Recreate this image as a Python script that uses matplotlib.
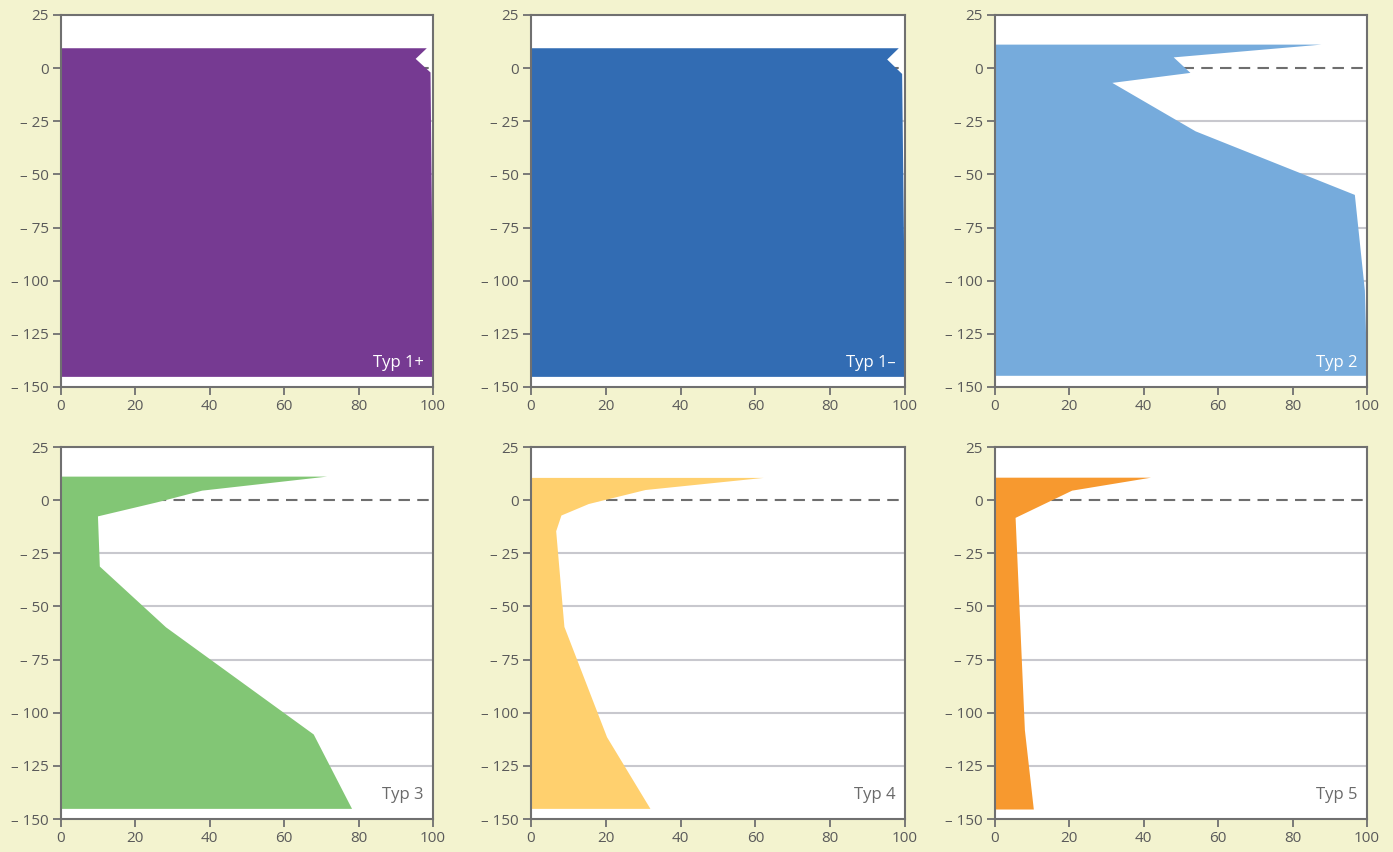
import matplotlib
matplotlib.use("Agg")
import matplotlib.pyplot as plt
from matplotlib.ticker import FuncFormatter

plt.rcParams['font.family'] = ['Open Sans', 'DejaVu Sans']

# Profile types: depth (y) against share in percent (x)
labels = ["Typ 1+", "Typ 1\u2013", "Typ 2", "Typ 3", "Typ 4", "Typ 5"]

depth_1p = [9.6, 4.6, -1.8, -145]
share_1p = [98.2, 95.2, 99.2, 100.0]

depth_1m = [9.6, 4.3, -2.5, -145]
share_1m = [98.2, 95.1, 99.1, 100.0]

depth_2 = [11.3, 5.3, -2.0, -6.7, -29.5, -59.4, -104.5, -144.5]
share_2 = [87.6, 47.9, 52.4, 31.4, 53.8, 96.6, 99.3, 99.9]

depth_3 = [11.3, 4.7, -0.8, -7.4, -31.0, -59.6, -110.0, -145.0]
share_3 = [71.4, 37.8, 25.7, 9.8, 10.3, 28.1, 67.8, 78.1]

depth_4 = [10.7, 5.0, -1.6, -7.0, -14.4, -59.4, -111.3, -145.0]
share_4 = [62.1, 30.5, 15.3, 8.0, 6.6, 8.8, 20.2, 31.8]

depth_5 = [10.8, 4.7, -8.1, -108.0, -145.3]
share_5 = [41.8, 20.6, 5.4, 7.9, 10.3]

profiles = [(depth_1p, share_1p), (depth_1m, share_1m), (depth_2, share_2),
            (depth_3, share_3), (depth_4, share_4), (depth_5, share_5)]
colors = ["#763A92", "#326CB3", "#76ABDC", "#82C675", "#FFD06E", "#F7992F"]
label_colors = ["white", "white", "white", "#6A6A6A", "#6A6A6A", "#6A6A6A"]

x_ticks = [0, 20, 40, 60, 80, 100]
y_ticks = [25, 0, -25, -50, -75, -100, -125, -150]
grid_levels = [-25, -50, -75, -100, -125]

W, H = 1393, 852
fig = plt.figure(figsize=(W / 100, H / 100), dpi=100)
fig.patch.set_facecolor("#F3F3CF")

col_px = [(61, 433), (531, 905), (995, 1367)]
row_px = [(15, 387), (447, 819)]

spine_col = "#707070"
text_col = "#5A5A5A"


def fmt(v, pos):
    v = int(round(v))
    if v < 0:
        return "\u2013 " + str(-v)
    return str(v)


for i, ((depth, share), col, lab, lcol) in enumerate(
        zip(profiles, colors, labels, label_colors)):
    r, c = divmod(i, 3)
    x0, x1 = col_px[c]
    y0, y1 = row_px[r]
    ax = fig.add_axes([x0 / W, 1 - y1 / H, (x1 - x0) / W, (y1 - y0) / H])
    ax.set_facecolor("white")
    ax.set_xlim(0, 100)
    ax.set_ylim(-150, 25)

    for g in grid_levels:
        ax.axhline(g, color="#C8C8CE", lw=1.5, zorder=1)
    ax.axhline(0, color="#6E6E6E", lw=1.5, ls=(0, (5.5, 3.5)), zorder=1)

    ax.fill_betweenx(depth, 0, share, color=col, lw=0, zorder=2)

    ax.text(97.5, -138.5, lab, color=lcol, fontsize=12,
            ha="right", va="center", zorder=3)

    ax.set_xticks(x_ticks)
    ax.set_yticks(y_ticks)
    ax.yaxis.set_major_formatter(FuncFormatter(fmt))
    ax.tick_params(axis="both", direction="out", length=6, width=1.3,
                   color=spine_col, labelcolor=text_col, labelsize=11,
                   pad=3)
    for s in ax.spines.values():
        s.set_color(spine_col)
        s.set_linewidth(1.5)
        s.set_zorder(4)

fig.savefig("out.png", dpi=100, facecolor=fig.get_facecolor())
